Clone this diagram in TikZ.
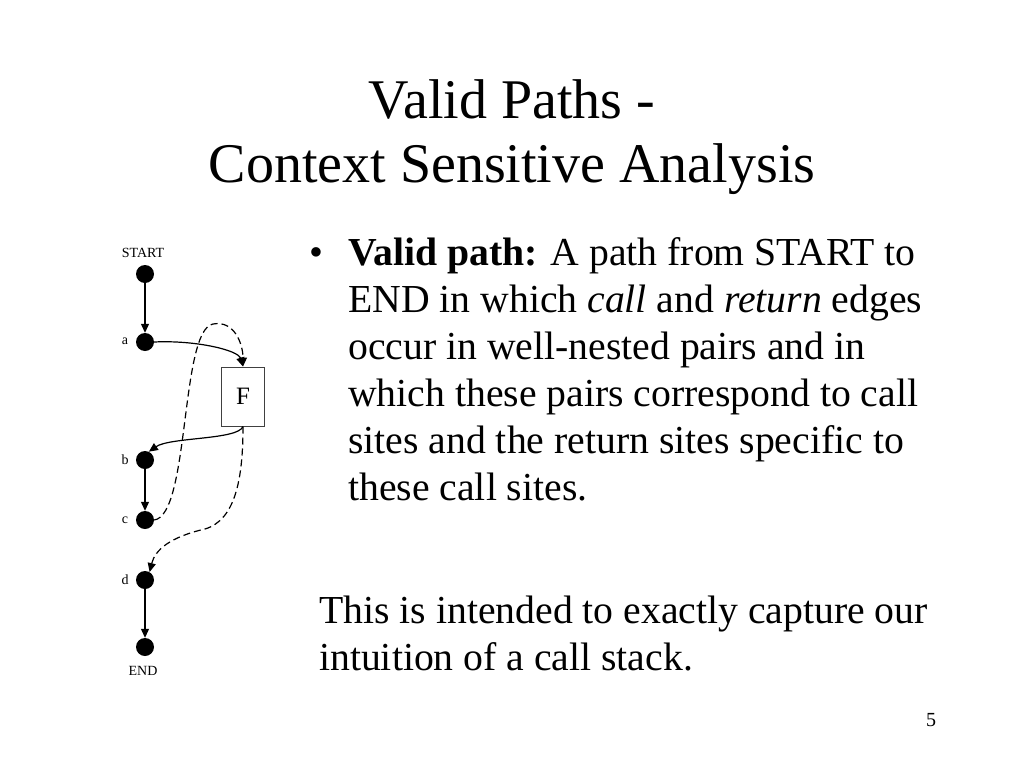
\documentclass[tikz,border=0pt]{standalone}
\usepackage{fontspec}
\setmainfont{Liberation Serif}
\usetikzlibrary{arrows.meta}
\begin{document}
\begin{tikzpicture}[x=1pt,y=-1pt,
  dot/.style={circle,fill=black,minimum size=18pt,inner sep=0pt},
  lbl/.style={font=\fontsize{14}{16}\selectfont,inner sep=0pt},
  arr/.style={line width=1.2pt,-{Triangle[length=9pt,width=8pt]}},
  darr/.style={arr,dash pattern=on 7pt off 4pt},
  body/.style={font=\fontsize{39.7}{47}\selectfont,anchor=base west,inner sep=0pt},
  ttl/.style={font=\fontsize{56}{64}\selectfont,anchor=base,inner sep=0pt},
  fbox/.style={draw=black!75,line width=1pt,minimum width=43pt,minimum height=59pt,inner sep=0pt,font=\fontsize{25}{28}\selectfont}]
\useasboundingbox (0,0) rectangle (1024,768);
\fill[white] (0,0) rectangle (1024,768);
% title
\node[ttl] (t1) at (512,118) {Valid Paths -};
\node[ttl] (t2) at (512,182) {Context Sensitive Analysis};
% diagram
\node[dot] (start) at (145,274) {};
\node[dot] (a) at (145,342) {};
\node[dot] (b) at (145,460) {};
\node[dot] (c) at (145,520) {};
\node[dot] (d) at (145,580) {};
\node[dot] (end) at (145,647) {};
\node[fbox] (F) at (243,396.5) {F};
\node[lbl] (lstart) at (143,253) {START};
\node[lbl] (la) at (125,341) {a};
\node[lbl] (lb) at (125,460) {b};
\node[lbl] (lc) at (125,520) {c};
\node[lbl] (ld) at (125,580) {d};
\node[lbl] (lend) at (143,671) {END};
\draw[arr] (start) -- (a);
\draw[arr] (b) -- (c);
\draw[arr] (d) -- (end);
\draw[arr] (a.east) .. controls (195,340) and (238,350) .. (F.north);
\draw[arr] (F.south) .. controls (238,440) and (170,437) .. (b.65);
\draw[darr] (c.east) .. controls (190,515) and (180,330) .. (213,324) .. controls (235,320) and (243,345) .. (F.north);
\draw[darr] (F.south) .. controls (243,480) and (235,520) .. (205,529) .. controls (170,537) and (155,550) .. (d.60);
% text
\node[font=\fontsize{39.7}{47}\selectfont,anchor=base,inner sep=0pt] (bul) at (316,265) {•};
\node[body] (l1) at (348,265) {\textbf{Valid path:} A path from START to};
\node[body] (l2) at (348,312) {END in which \textit{call} and \textit{return} edges};
\node[body] (l3) at (348,359) {occur in well-nested pairs and in};
\node[body] (l4) at (348,406) {which these pairs correspond to call};
\node[body] (l5) at (348,453) {sites and the return sites specific to};
\node[body] (l6) at (348,500) {these call sites.};
\node[body] (p1) at (319,623) {This is intended to exactly capture our};
\node[body] (p2) at (319,670) {intuition of a call stack.};
\node[font=\fontsize{20}{22}\selectfont,anchor=base,inner sep=0pt] (pg) at (931,726) {5};
\end{tikzpicture}
\end{document}
